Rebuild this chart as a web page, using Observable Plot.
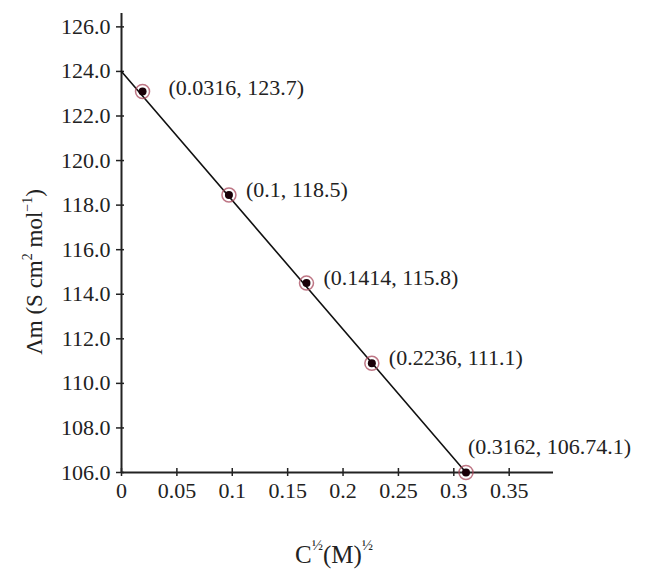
<!DOCTYPE html>
<html>
<head>
<meta charset="utf-8">
<script src="https://cdn.jsdelivr.net/npm/d3@7"></script>
<script src="https://cdn.jsdelivr.net/npm/@observablehq/plot@0.6"></script>
<style>
  html, body { margin: 0; padding: 0; background: #fff; }
  #chart { width: 648px; height: 570px; }
</style>
</head>
<body>
<div id="chart"></div>
<script>
// Data
const pointX = [0.019, 0.097, 0.167, 0.226, 0.311];
const pointY = [123.1, 118.45, 114.5, 110.9, 106.0];
const pointLabels = ["(0.0316, 123.7)", "(0.1, 118.5)", "(0.1414, 115.8)", "(0.2236, 111.1)", "(0.3162, 106.74.1)"];
const fitX = [0, 0.311];
const fitY = [124.0, 106.0];
const xTicks = [0, 0.05, 0.1, 0.15, 0.2, 0.25, 0.3, 0.35];
const xTickLabels = ["0", "0.05", "0.1", "0.15", "0.2", "0.25", "0.3", "0.35"];
const yTicks = [106, 108, 110, 112, 114, 116, 118, 120, 122, 124, 126];
const yTickLabels = ["106.0", "108.0", "110.0", "112.0", "114.0", "116.0", "118.0", "120.0", "122.0", "124.0", "126.0"];
const yLabelParts = [["Λm (S cm", false], ["2", true], [" mol", false], ["−1", true], [")", false]];
const xLabelParts = [["C", false], ["½", true], ["(M)", false], ["½", true]];

const points = pointX.map((x, i) => ({x, y: pointY[i], label: pointLabels[i], i}));
const fit = fitX.map((x, i) => ({x, y: fitY[i]}));

const serif = "Liberation Serif, Times New Roman, serif";
const fs = 22;

const chart = Plot.plot({
  width: 648,
  height: 570,
  marginLeft: 121,
  marginRight: 95,
  marginTop: 13,
  marginBottom: 98,
  style: {fontFamily: serif, fontSize: fs + "px", color: "#222", background: "transparent"},
  x: {domain: [0, 0.39], axis: null},
  y: {domain: [106, 126.6], axis: null},
  marks: [
    Plot.ruleY([106], {stroke: "#222", strokeWidth: 2}),
    Plot.ruleX([0], {stroke: "#222", strokeWidth: 2}),
    Plot.axisX({ticks: xTicks, tickSize: 8, dy: -4, text: null, label: null, stroke: "#222", strokeWidth: 1.5}),
    Plot.axisX({ticks: xTicks, tickSize: 0, tickPadding: 10, tickFormat: (d, i) => xTickLabels[i], fill: "#222", fontSize: fs, label: null}),
    Plot.axisY({ticks: yTicks, tickSize: 8, dx: 3, text: null, label: null, stroke: "#222", strokeWidth: 1.5}),
    Plot.axisY({ticks: yTicks, tickSize: 0, tickPadding: 11, tickFormat: (d, i) => yTickLabels[i], fill: "#222", fontSize: fs, label: null}),
    Plot.line(fit, {x: "x", y: "y", stroke: "#111", strokeWidth: 1.6}),
    Plot.dot(points, {x: "x", y: "y", r: 7, stroke: "#a8485c", strokeOpacity: 0.75, strokeWidth: 1.5, fill: "none"}),
    Plot.dot(points, {x: "x", y: "y", r: 4, fill: "#1a0008", stroke: "none"}),
    Plot.text(points.filter(d => d.i === 0), {x: "x", y: "y", text: "label", textAnchor: "start", dx: 26, dy: -4, fill: "#222", fontSize: fs}),
    Plot.text(points.filter(d => d.i > 0 && d.i < 4), {x: "x", y: "y", text: "label", textAnchor: "start", dx: 17, dy: -5, fill: "#222", fontSize: fs}),
    Plot.text(points.filter(d => d.i === 4), {x: "x", y: "y", text: "label", textAnchor: "start", dx: 2, dy: -26, fill: "#222", fontSize: fs})
  ]
});

const svg = d3.select(chart);

// y-axis title with superscripts (real SVG text)
const yt = svg.append("text")
  .attr("transform", "translate(42,272) rotate(-90)")
  .attr("text-anchor", "middle")
  .attr("font-family", serif)
  .attr("font-size", 23)
  .attr("fill", "#222");
let up = false;
for (const [s, sup] of yLabelParts) {
  const ts = yt.append("tspan").text(s);
  if (sup && !up) { ts.attr("dy", -10).attr("font-size", 14); up = true; }
  else if (sup) { ts.attr("font-size", 14); }
  else if (up) { ts.attr("dy", 10); up = false; }
}

// x-axis title with superscript halves (real SVG text)
const xt = svg.append("text")
  .attr("x", 334)
  .attr("y", 563)
  .attr("text-anchor", "middle")
  .attr("font-family", serif)
  .attr("font-size", 25)
  .attr("fill", "#222");
up = false;
for (const [s, sup] of xLabelParts) {
  const ts = xt.append("tspan").text(s);
  if (sup && !up) { ts.attr("dy", -13).attr("font-size", 15); up = true; }
  else if (!sup && up) { ts.attr("dy", 13); up = false; }
}

document.getElementById("chart").appendChild(chart);
</script>
</body>
</html>
